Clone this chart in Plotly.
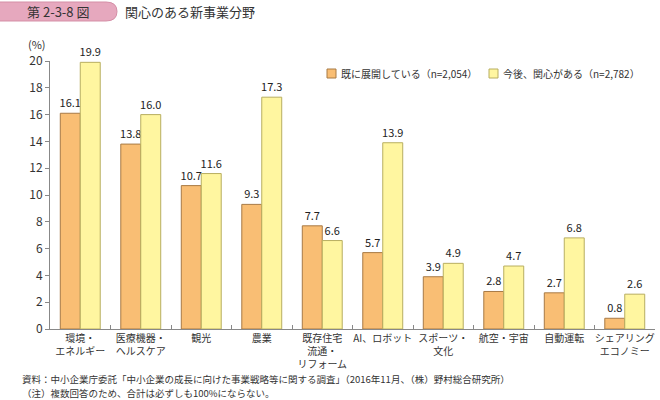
import plotly.graph_objects as go

categories = ["環境・<br>エネルギー", "医療機器・<br>ヘルスケア", "観光", "農業",
              "既存住宅<br>流通・<br>リフォーム", "AI、ロボット", "スポーツ・<br>文化",
              "航空・宇宙", "自動運転", "シェアリング<br>エコノミー"]
already = [16.1, 13.8, 10.7, 9.3, 7.7, 5.7, 3.9, 2.8, 2.7, 0.8]
interest = [19.9, 16.0, 11.6, 17.3, 6.6, 13.9, 4.9, 4.7, 6.8, 2.6]
name_already = "既に展開している（n=2,054）"
name_interest = "今後、関心がある（n=2,782）"
yticks = [0, 2, 4, 6, 8, 10, 12, 14, 16, 18, 20]

FONT = "Noto Sans CJK JP"
C_ORANGE, C_ORANGE_L = "#F9BE74", "#A87A45"
C_YELLOW, C_YELLOW_L = "#FFF6A0", "#B8AE60"

# plot area in pixels
L, R, T, B = 50, 655, 61, 329
PW, PH = R - L, B - T
def px(x): return (x - L) / PW
def py(y): return (B - y) / PH

fig = go.Figure()
fig.add_bar(x=categories, y=already, name=name_already,
            marker=dict(color=C_ORANGE, line=dict(color=C_ORANGE_L, width=1)),
            texttemplate="%{y:.1f}", textposition="outside", constraintext="none",
            textfont=dict(size=11, color="#222"), cliponaxis=False)
fig.add_bar(x=categories, y=interest, name=name_interest,
            marker=dict(color=C_YELLOW, line=dict(color=C_YELLOW_L, width=1)),
            texttemplate="%{y:.1f}", textposition="outside", constraintext="none",
            textfont=dict(size=11, color="#222"), cliponaxis=False)

fig.update_layout(
    width=660, height=400,
    margin=dict(l=L, r=660 - R, t=T, b=400 - B),
    paper_bgcolor="white", plot_bgcolor="white",
    font=dict(family=FONT, size=11, color="#333"),
    barmode="group", bargap=0.34, bargroupgap=0,
    showlegend=False,
)
fig.update_yaxes(range=[0, 20], tickvals=yticks, ticks="outside", ticklen=4,
                 tickcolor="#888", showline=True, linecolor="#888", linewidth=1,
                 showgrid=False, zeroline=False, tickfont=dict(size=12, color="#333"))
fig.update_xaxes(ticks="inside", tickson="boundaries", ticklen=4, tickcolor="#888",
                 showline=True, linecolor="#888", linewidth=1, showgrid=False,
                 tickangle=0, automargin=False, tickfont=dict(size=10, color="#333"))

# Legend (manual)
for sx, tx, col, lcol, name in [(327, 339, C_ORANGE, C_ORANGE_L, name_already),
                                (489, 501, C_YELLOW, C_YELLOW_L, name_interest)]:
    fig.add_shape(type="rect", xref="paper", yref="paper",
                  x0=px(sx), x1=px(sx + 9), y0=py(78), y1=py(69),
                  fillcolor=col, line=dict(color=lcol, width=1))
    fig.add_annotation(xref="paper", yref="paper", x=px(tx), y=py(73.5), xanchor="left",
                       yanchor="middle", text=name, showarrow=False,
                       font=dict(size=10, color="#333"))

# Title banner
pts = (px(-2), py(2), px(106), py(2), px(117), py(2), px(117), py(11.5),
       px(117), py(21), px(106), py(21), px(-2), py(21))
fig.add_shape(type="path", xref="paper", yref="paper",
              path="M %f %f L %f %f Q %f %f %f %f Q %f %f %f %f L %f %f Z" % pts,
              fillcolor="#E6A8BE", line=dict(color="#D48EA6", width=1))
fig.add_annotation(xref="paper", yref="paper", x=px(58), y=py(11.5), xanchor="center",
                   yanchor="middle", text="第 2-3-8 図", showarrow=False,
                   font=dict(size=13, color="#333"))
fig.add_annotation(xref="paper", yref="paper", x=px(123), y=py(11.5), xanchor="left",
                   yanchor="middle", text="関心のある新事業分野", showarrow=False,
                   font=dict(size=13, color="#333"))
fig.add_annotation(xref="paper", yref="paper", x=px(26), y=py(44), xanchor="left",
                   yanchor="middle", text="(%)", showarrow=False,
                   font=dict(size=11, color="#333"))
fig.add_annotation(xref="paper", yref="paper", x=px(20), y=py(379), xanchor="left",
                   yanchor="middle",
                   text="資料：中小企業庁委託「中小企業の成長に向けた事業戦略等に関する調査」（2016年11月、（株）野村総合研究所）",
                   showarrow=False, font=dict(size=9.5, color="#333"))
fig.add_annotation(xref="paper", yref="paper", x=px(20), y=py(392.5), xanchor="left",
                   yanchor="middle",
                   text="（注）複数回答のため、合計は必ずしも100%にならない。",
                   showarrow=False, font=dict(size=9.5, color="#333"))

fig.write_html("out.html", post_script="document.body.style.margin='0';",
               config={"displayModeBar": False})
